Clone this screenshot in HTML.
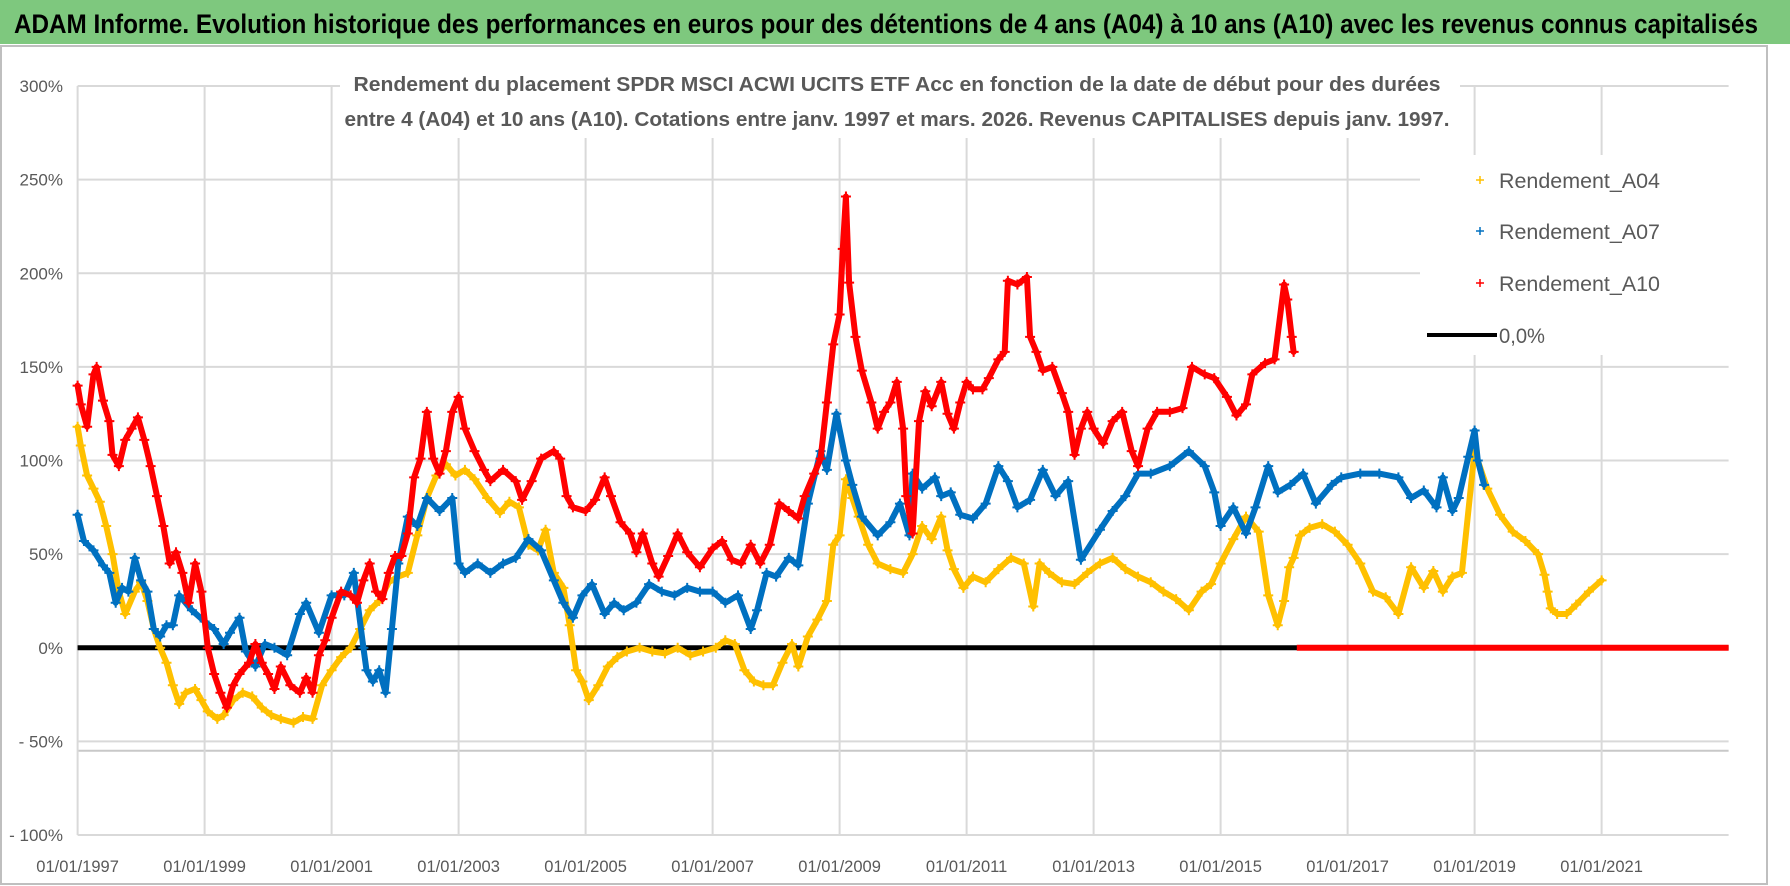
<!DOCTYPE html>
<html><head><meta charset="utf-8"><style>
body{margin:0;background:#fff;}
svg{display:block;font-family:"Liberation Sans",sans-serif;}
</style></head><body>
<svg id="chart" width="1790" height="886" viewBox="0 0 1790 886" xmlns="http://www.w3.org/2000/svg">
<rect x="0" y="0" width="1790" height="886" fill="#fff"/>
<rect x="0" y="0" width="1790" height="44" fill="#7EC87E"/>
<text x="14" y="33" font-size="27" font-weight="bold" fill="#000" textLength="1744" lengthAdjust="spacingAndGlyphs">ADAM Informe. Evolution historique des performances en euros pour des détentions de 4 ans (A04) à 10 ans (A10) avec les revenus connus capitalisés</text>
<rect x="1" y="46" width="1766" height="838" fill="none" stroke="#bfbfbf" stroke-width="2"/>
<g id="grid"></g>
<g id="marks"></g>
<rect x="340" y="66" width="1120" height="72" fill="#fff"/>
<text x="897" y="91" text-anchor="middle" font-size="20" font-weight="bold" fill="#595959" textLength="1087" lengthAdjust="spacingAndGlyphs">Rendement du placement SPDR MSCI ACWI UCITS ETF Acc en fonction de la date de début pour des durées</text>
<text x="897" y="126" text-anchor="middle" font-size="20" font-weight="bold" fill="#595959" textLength="1105" lengthAdjust="spacingAndGlyphs">entre 4 (A04) et 10 ans (A10). Cotations entre janv. 1997 et mars. 2026. Revenus CAPITALISES depuis janv. 1997.</text>
<g id="legend">
<rect x="1420" y="155" width="320" height="200" fill="#fff"/>
<g><path d="M1476 180h8M1480 176v8" stroke="#FFC000" stroke-width="1.5"/><text x="1499" y="188" font-size="21" fill="#595959" textLength="161" lengthAdjust="spacingAndGlyphs">Rendement_A04</text></g>
<g><path d="M1476 231h8M1480 227v8" stroke="#0070C0" stroke-width="1.5"/><text x="1499" y="239" font-size="21" fill="#595959" textLength="161" lengthAdjust="spacingAndGlyphs">Rendement_A07</text></g>
<g><path d="M1476 283h8M1480 279v8" stroke="#FF0000" stroke-width="1.5"/><text x="1499" y="291" font-size="21" fill="#595959" textLength="161" lengthAdjust="spacingAndGlyphs">Rendement_A10</text></g>
<g><path d="M1427 335h70" stroke="#000" stroke-width="4"/><text x="1499" y="343" font-size="21" fill="#595959" textLength="46" lengthAdjust="spacingAndGlyphs">0,0%</text></g>
</g>
</svg>
<script>
const yTicks=[300,250,200,150,100,50,0,-50,-100];
const yTickLabels=["300%","250%","200%","150%","100%","50%","0%","- 50%","- 100%"];
const xTicks=[1997,1999,2001,2003,2005,2007,2009,2011,2013,2015,2017,2019,2021];
const xTickLabels=["01/01/1997","01/01/1999","01/01/2001","01/01/2003","01/01/2005","01/01/2007","01/01/2009","01/01/2011","01/01/2013","01/01/2015","01/01/2017","01/01/2019","01/01/2021"];
const xMin=1997, xMax=2023, yMin=-100, yMax=300;
const a04Dates=[1997.0,1997.05,1997.15,1997.25,1997.35,1997.45,1997.55,1997.65,1997.75,1997.9,1998.0,1998.1,1998.2,1998.3,1998.4,1998.5,1998.6,1998.7,1998.85,1998.95,1999.05,1999.2,1999.3,1999.45,1999.6,1999.75,1999.9,2000.05,2000.2,2000.4,2000.55,2000.7,2000.85,2001.0,2001.15,2001.3,2001.45,2001.6,2001.75,2001.9,2002.05,2002.2,2002.35,2002.5,2002.65,2002.8,2002.95,2003.1,2003.25,2003.45,2003.65,2003.8,2003.95,2004.1,2004.25,2004.37,2004.5,2004.65,2004.75,2004.85,2004.95,2005.05,2005.2,2005.35,2005.5,2005.65,2005.85,2006.05,2006.25,2006.45,2006.65,2006.85,2007.05,2007.2,2007.35,2007.5,2007.65,2007.8,2007.95,2008.1,2008.25,2008.35,2008.5,2008.65,2008.8,2008.9,2009.0,2009.1,2009.2,2009.3,2009.45,2009.6,2009.8,2010.0,2010.15,2010.3,2010.45,2010.6,2010.7,2010.8,2010.95,2011.1,2011.3,2011.5,2011.7,2011.9,2012.05,2012.15,2012.3,2012.5,2012.7,2012.9,2013.1,2013.3,2013.5,2013.7,2013.9,2014.1,2014.3,2014.5,2014.7,2014.85,2015.0,2015.2,2015.4,2015.6,2015.75,2015.9,2016.0,2016.08,2016.15,2016.25,2016.4,2016.6,2016.8,2017.0,2017.2,2017.4,2017.6,2017.8,2018.0,2018.2,2018.35,2018.5,2018.65,2018.8,2019.0,2019.2,2019.4,2019.6,2019.8,2020.0,2020.1,2020.15,2020.2,2020.3,2020.45,2020.6,2020.8,2021.0,2021.15,2021.3,2021.45,2021.6,2021.75,2021.9,2022.05,2022.2];
const a04Values=[118,108,92,85,78,65,50,30,18,30,35,25,10,0,-8,-20,-30,-24,-22,-28,-34,-38,-36,-28,-24,-26,-32,-36,-38,-40,-37,-38,-20,-12,-5,0,10,20,25,35,38,40,60,80,92,98,92,95,90,80,72,78,75,55,52,63,40,32,12,-12,-18,-28,-20,-10,-5,-2,0,-2,-3,0,-4,-2,0,4,2,-12,-18,-20,-20,-8,2,-10,6,15,25,55,60,90,80,70,55,45,42,40,50,65,58,70,52,42,32,38,35,42,48,45,22,45,40,35,34,40,45,48,42,38,35,30,26,20,30,34,45,58,70,62,28,12,25,43,48,60,64,66,62,55,45,30,27,18,43,32,41,30,38,40,105,85,71,62,57,50,39,30,21,18,18,23,30,36];
const a07Dates=[1997.0,1997.1,1997.25,1997.4,1997.5,1997.6,1997.7,1997.8,1997.9,1998.0,1998.1,1998.2,1998.3,1998.4,1998.5,1998.6,1998.8,1999.0,1999.15,1999.3,1999.4,1999.55,1999.65,1999.8,1999.95,2000.1,2000.3,2000.5,2000.6,2000.8,2001.0,2001.2,2001.35,2001.5,2001.55,2001.65,2001.75,2001.85,2001.95,2002.05,2002.2,2002.35,2002.5,2002.7,2002.9,2003.0,2003.1,2003.3,2003.5,2003.7,2003.9,2004.1,2004.3,2004.5,2004.65,2004.8,2004.95,2005.1,2005.3,2005.45,2005.6,2005.8,2006.0,2006.2,2006.4,2006.6,2006.8,2007.0,2007.2,2007.4,2007.6,2007.7,2007.85,2008.0,2008.2,2008.35,2008.5,2008.7,2008.8,2008.95,2009.1,2009.2,2009.35,2009.6,2009.8,2009.95,2010.1,2010.15,2010.3,2010.5,2010.6,2010.75,2010.9,2011.1,2011.3,2011.5,2011.65,2011.8,2012.0,2012.2,2012.4,2012.6,2012.8,2013.1,2013.3,2013.5,2013.7,2013.9,2014.2,2014.5,2014.75,2014.9,2015.0,2015.2,2015.4,2015.55,2015.75,2015.9,2016.1,2016.3,2016.5,2016.75,2016.9,2017.2,2017.5,2017.8,2018.0,2018.2,2018.4,2018.5,2018.65,2018.75,2018.9,2019.0,2019.05,2019.15,2019.25];
const a07Values=[71,57,52,44,40,24,32,30,48,36,30,10,6,12,12,28,20,14,10,2,8,16,-2,-10,2,0,-4,18,24,8,28,28,40,0,-12,-18,-12,-24,10,45,70,65,80,73,80,45,40,45,40,45,48,58,52,36,24,16,28,34,18,24,20,24,34,30,28,32,30,30,24,28,10,20,40,38,48,44,77,105,95,125,100,87,70,60,67,77,60,93,85,91,81,83,71,69,77,97,89,75,79,95,81,89,47,63,73,81,93,93,97,105,97,83,65,75,61,75,97,83,87,93,77,87,91,93,93,91,80,84,75,91,73,80,102,116,100,87];
const a10Dates=[1997.0,1997.05,1997.15,1997.25,1997.3,1997.4,1997.5,1997.55,1997.65,1997.75,1997.85,1997.95,1998.05,1998.15,1998.25,1998.35,1998.45,1998.55,1998.65,1998.75,1998.85,1998.95,1999.05,1999.15,1999.25,1999.35,1999.45,1999.55,1999.7,1999.8,1999.9,2000.0,2000.1,2000.2,2000.35,2000.5,2000.6,2000.7,2000.8,2000.9,2001.0,2001.15,2001.3,2001.4,2001.5,2001.6,2001.7,2001.8,2001.9,2002.0,2002.1,2002.2,2002.3,2002.4,2002.5,2002.6,2002.7,2002.8,2002.9,2003.0,2003.1,2003.25,2003.4,2003.5,2003.7,2003.9,2004.0,2004.15,2004.3,2004.5,2004.6,2004.7,2004.8,2005.0,2005.15,2005.3,2005.4,2005.55,2005.7,2005.8,2005.9,2006.05,2006.15,2006.3,2006.45,2006.6,2006.8,2007.0,2007.15,2007.3,2007.45,2007.6,2007.75,2007.9,2008.05,2008.2,2008.35,2008.45,2008.6,2008.7,2008.8,2008.9,2009.0,2009.05,2009.1,2009.15,2009.25,2009.35,2009.5,2009.6,2009.7,2009.8,2009.9,2010.0,2010.05,2010.15,2010.25,2010.35,2010.45,2010.6,2010.7,2010.8,2010.9,2011.0,2011.1,2011.25,2011.35,2011.5,2011.6,2011.65,2011.8,2011.95,2012.0,2012.1,2012.2,2012.35,2012.5,2012.6,2012.7,2012.8,2012.9,2013.0,2013.15,2013.3,2013.45,2013.6,2013.7,2013.85,2014.0,2014.2,2014.4,2014.55,2014.75,2014.9,2015.1,2015.25,2015.4,2015.5,2015.7,2015.85,2016.0,2016.05,2016.12,2016.15];
const a10Values=[140,130,118,146,150,132,121,103,97,111,117,123,111,97,81,65,45,51,40,24,45,30,0,-14,-24,-32,-20,-14,-8,2,-8,-14,-22,-10,-20,-24,-16,-24,-4,4,16,30,28,24,36,45,30,26,40,49,49,61,91,101,126,101,93,105,126,134,117,105,95,89,95,89,79,89,101,105,101,81,75,73,79,91,81,67,61,51,61,45,38,49,61,51,43,53,57,47,45,55,45,55,77,73,69,81,93,101,131,162,178,213,241,195,166,148,131,117,126,131,142,117,81,61,121,137,129,142,125,117,131,142,138,138,144,154,158,196,194,198,166,158,148,150,136,126,103,117,126,117,109,121,126,105,97,117,126,126,128,150,146,144,134,124,130,146,152,154,194,186,166,158];
const zeroStart=1997, zeroEnd=2023, a10ZeroStart=2016.2;

const NS="http://www.w3.org/2000/svg";
const L=77.6, R=1728.6, T=86, B=835;
function xs(v){return L+(v-xMin)/(xMax-xMin)*(R-L);}
function ys(v){return T+(yMax-v)/(yMax-yMin)*(B-T);}
function mk(tag,attrs,parent){const e=document.createElementNS(NS,tag);for(const k in attrs)e.setAttribute(k,attrs[k]);parent.appendChild(e);return e;}
const grid=document.getElementById('grid');
const marks=document.getElementById('marks');
yTicks.forEach((t,i)=>{
  const ln=mk('line',{x1:L,x2:R,y1:ys(t),y2:ys(t),stroke:'#d9d9d9','stroke-width':2},grid);
  
  
  const tx=mk('text',{x:63,y:ys(t)+6,'text-anchor':'end','font-size':17,fill:'#595959'},grid);
  tx.textContent=yTickLabels[i];
  
  
});
const extra=mk('line',{x1:L,x2:R,y1:ys(-55),y2:ys(-55),stroke:'#c8c8c8','stroke-width':2},grid);


xTicks.forEach((t,i)=>{
  const ln=mk('line',{x1:xs(t),x2:xs(t),y1:T,y2:B,stroke:'#d9d9d9','stroke-width':2},grid);
  
  
  const tx=mk('text',{x:xs(t),y:872,'text-anchor':'middle','font-size':16.5,fill:'#595959'},grid);
  tx.textContent=xTickLabels[i];
  
  
});
function series(dates,vals,color,name){
  const g=mk('g',{},marks);
  
  
  let d='';
  dates.forEach((t,i)=>{d+=(i?'L':'M')+xs(t).toFixed(1)+' '+ys(vals[i]).toFixed(1);});
  mk('path',{d:d,fill:'none',stroke:color,'stroke-width':6,'stroke-linejoin':'round','stroke-linecap':'round'},g);
  dates.forEach((t,i)=>{
    const x=xs(t),y=ys(vals[i]);
    const p=mk('path',{d:`M${x-5} ${y}h10M${x} ${y-5}v10`,stroke:color,'stroke-width':2},g);
    
    
  });
}
const z=mk('line',{x1:xs(zeroStart),x2:xs(zeroEnd),y1:ys(0),y2:ys(0),stroke:'#000','stroke-width':5},marks);


series(a04Dates,a04Values,'#FFC000','series-a04');
series(a07Dates,a07Values,'#0070C0','series-a07');
series(a10Dates,a10Values,'#FF0000','series-a10');
const rz=mk('line',{x1:xs(a10ZeroStart),x2:xs(zeroEnd),y1:ys(0),y2:ys(0),stroke:'#FF0000','stroke-width':6},marks);


</script>
</body></html>
